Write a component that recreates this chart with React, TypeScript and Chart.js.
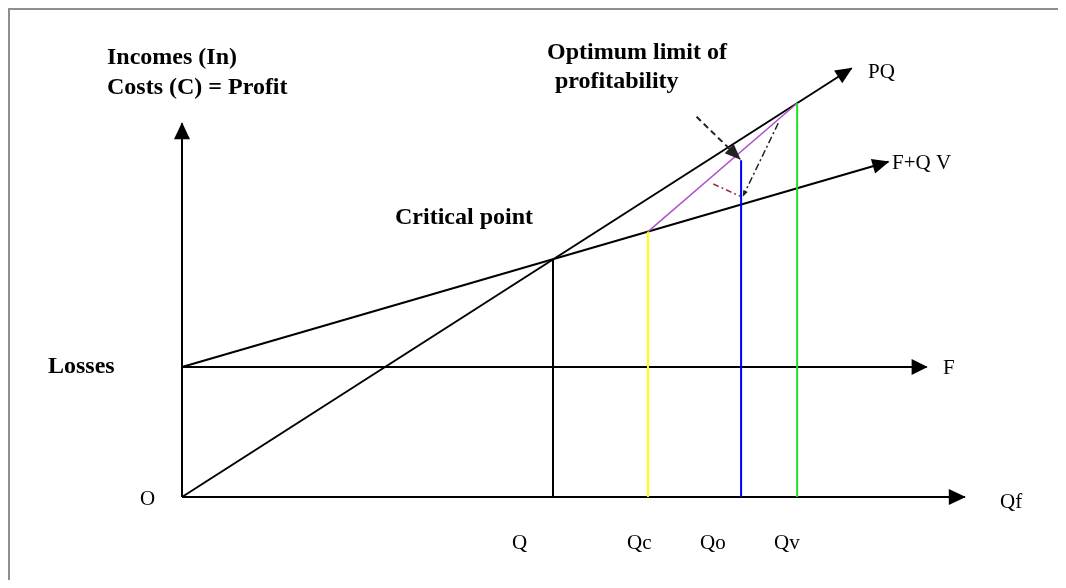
import React, { useEffect, useRef } from "react";
import { Chart, registerables } from "chart.js";

Chart.register(...registerables);

// Quantities on the horizontal axis (units of output)
const Q_CRITICAL = 10; // Q  – break-even quantity
const Q_C = 12.56; // Qc
const Q_O = 15.07; // Qo
const Q_V = 16.58; // Qv

// Money values (incomes / costs)
const FIXED_COST = 10; // F
const REVENUE_AT_Q = 18.3; // critical point
const COST_AT_QC = 20.41;
const PROFIT_LIMIT_AT_QO = 25.9;
const REVENUE_AT_QV = 30.29;

// Lines of the diagram (x = quantity, y = money)
const quantityAxis = [{ x: 0, y: 0 }, { x: 21.1, y: 0 }];
const moneyAxis = [{ x: 0, y: 0 }, { x: 0, y: 28.75 }];
const fixedCosts = [{ x: 0, y: FIXED_COST }, { x: 20.07, y: FIXED_COST }];
const revenue = [{ x: 0, y: 0 }, { x: 18.05, y: 32.98 }];
const totalCosts = [{ x: 0, y: FIXED_COST }, { x: 19.04, y: 25.79 }];
const qLine = [{ x: Q_CRITICAL, y: 0 }, { x: Q_CRITICAL, y: REVENUE_AT_Q }];
const qcLine = [{ x: Q_C, y: 0 }, { x: Q_C, y: COST_AT_QC }];
const qoLine = [{ x: Q_O, y: 0 }, { x: Q_O, y: PROFIT_LIMIT_AT_QO }];
const qvLine = [{ x: Q_V, y: 0 }, { x: Q_V, y: REVENUE_AT_QV }];
const profitChord = [{ x: Q_C, y: COST_AT_QC }, { x: Q_V, y: REVENUE_AT_QV }];
const optimumPointer = [{ x: 13.87, y: 29.25 }, { x: 15.04, y: 26.0 }];
const projectionBlack = [{ x: 16.07, y: 28.75 }, { x: 15.13, y: 23.19 }];
const projectionRed = [{ x: 14.32, y: 24.08 }, { x: 15.09, y: 23.08 }];

// Text labels
const boldLabels = [
  "Incomes (In)",
  "Costs (C) = Profit",
  "Optimum limit of",
  "profitability",
  "Critical point",
  "Losses",
];
const plainLabels = ["PQ", "F+Q V", "F", "Qf", "O", "Q", "Qc", "Qo", "Qv"];

// Where each label sits on the canvas (layout only)
const boldPos = [
  [97, 48],
  [97, 78],
  [537, 43],
  [545, 72],
  [385, 208],
  [38, 357],
];
const plainPos = [
  [858, 62],
  [882, 153],
  [933, 358],
  [990, 492],
  [130, 489],
  [502, 533],
  [617, 533],
  [690, 533],
  [764, 533],
];

const SERIF = '"Liberation Serif", "Times New Roman", serif';

const arrowPlugin = {
  id: "arrowHeads",
  afterDatasetsDraw(chart: any) {
    const ctx = chart.ctx;
    chart.data.datasets.forEach((ds: any, i: number) => {
      if (!ds.arrow) return;
      const pts = chart.getDatasetMeta(i).data;
      const a = pts[pts.length - 2];
      const b = pts[pts.length - 1];
      const ang = Math.atan2(b.y - a.y, b.x - a.x);
      const L = ds.arrow[0];
      const W = ds.arrow[1];
      ctx.save();
      ctx.translate(b.x, b.y);
      ctx.rotate(ang);
      ctx.beginPath();
      ctx.moveTo(1, 0);
      ctx.lineTo(-L, W / 2);
      ctx.lineTo(-L, -W / 2);
      ctx.closePath();
      ctx.fillStyle = ds.borderColor;
      ctx.fill();
      ctx.restore();
    });
  },
};

const textPlugin = {
  id: "diagramText",
  afterDraw(chart: any) {
    const ctx = chart.ctx;
    ctx.save();
    ctx.fillStyle = "#000";
    ctx.textBaseline = "middle";
    ctx.textAlign = "left";
    ctx.font = `bold 24px ${SERIF}`;
    boldLabels.forEach((t, i) => ctx.fillText(t, boldPos[i][0], boldPos[i][1]));
    ctx.font = `21px ${SERIF}`;
    plainLabels.forEach((t, i) => ctx.fillText(t, plainPos[i][0], plainPos[i][1]));
    ctx.restore();
  },
};

function line(data: any[], color: string, width: number, extra: any = {}) {
  return {
    data,
    borderColor: color,
    backgroundColor: color,
    borderWidth: width,
    showLine: true,
    pointRadius: 0,
    pointHoverRadius: 0,
    clip: false,
    ...extra,
  };
}

export default function App() {
  const ref = useRef<HTMLCanvasElement | null>(null);

  useEffect(() => {
    document.documentElement.style.overflow = "hidden";
    document.body.style.overflow = "hidden";
    const chart = new Chart(ref.current as HTMLCanvasElement, {
      type: "scatter",
      data: {
        datasets: [
          line(qLine, "#000000", 2),
          line(qcLine, "#ffff00", 2),
          line(qoLine, "#0000ff", 2),
          line(qvLine, "#22e022", 2),
          line(profitChord, "#b050c8", 1.5),
          line(projectionRed, "#993344", 1.5, { borderDash: [6, 3, 2, 3] }),
          line(projectionBlack, "#222222", 1.5, { borderDash: [7, 3, 2, 3], arrow: [5, 5] }),
          line(optimumPointer, "#222222", 2, { borderDash: [6, 4], arrow: [15, 13] }),
          line(fixedCosts, "#000000", 2, { arrow: [15, 16] }),
          line(totalCosts, "#000000", 2, { arrow: [16, 15] }),
          line(revenue, "#000000", 2, { arrow: [16, 15] }),
          line(quantityAxis, "#000000", 2, { arrow: [16, 16] }),
          line(moneyAxis, "#000000", 2, { arrow: [16, 16] }),
        ] as any,
      },
      options: {
        animation: false,
        responsive: false,
        events: [],
        layout: { padding: { left: 172, right: 67.8, top: 45, bottom: 83 } },
        plugins: { legend: { display: false }, tooltip: { enabled: false } },
        scales: {
          x: { type: "linear", display: false, min: 0, max: 22 },
          y: { type: "linear", display: false, min: 0, max: 34 },
        },
      },
      plugins: [arrowPlugin, textPlugin],
    });
    return () => chart.destroy();
  }, []);

  return (
    <div
      style={{
        width: 1058,
        height: 572,
        boxSizing: "border-box",
        borderTop: "2px solid #8e8e8e",
        borderLeft: "2px solid #8e8e8e",
        background: "#fff",
      }}
    >
      <canvas ref={ref} width={1056} height={570} style={{ display: "block" }} />
    </div>
  );
}
